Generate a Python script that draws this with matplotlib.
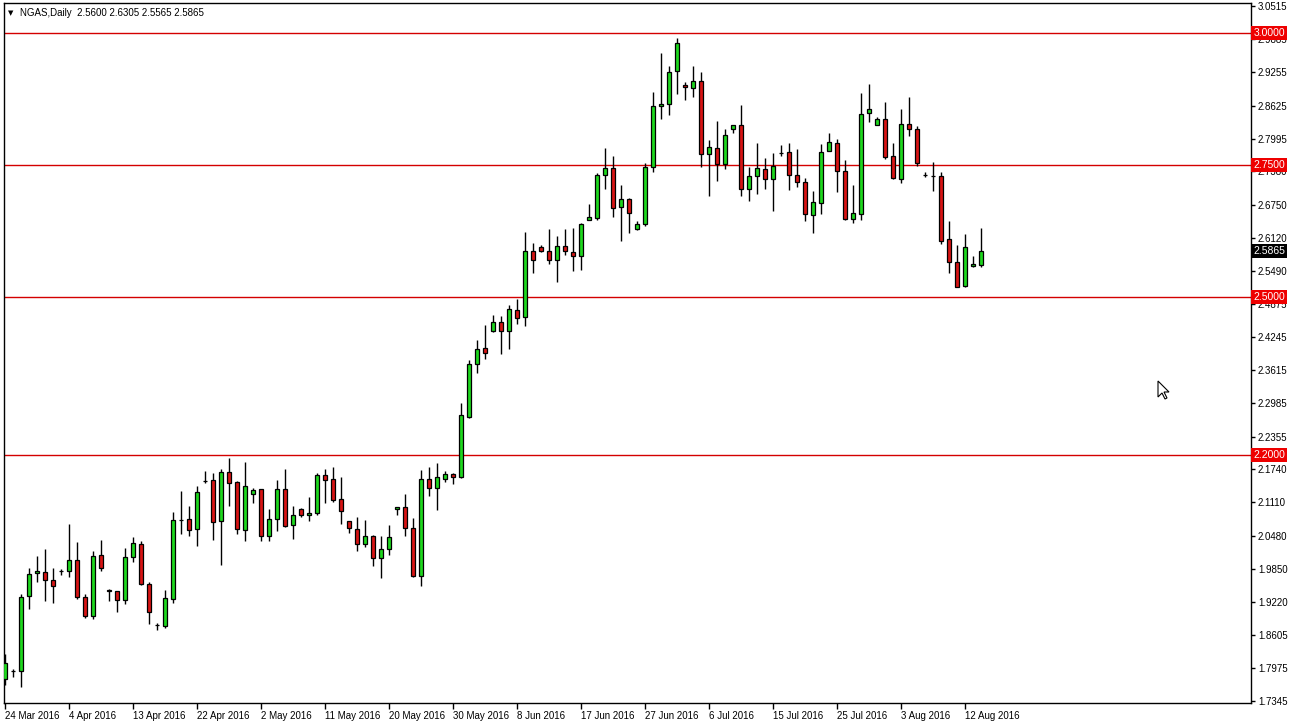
import matplotlib
matplotlib.use("Agg")
import matplotlib.pyplot as plt
import numpy as np

# NGAS daily candles, 24 Mar 2016 .. 15 Aug 2016 (incl. short Sunday bars)
opens = [1.777, 1.791, 1.791, 1.933, 1.977, 1.980, 1.964, 1.982, 1.982, 2.001,
         1.931, 1.895, 2.011, 1.946, 1.943, 1.926, 2.007, 2.032, 1.956, 1.878,
         1.876, 1.928, 2.078, 2.079, 2.060, 2.152, 2.153, 2.075, 2.168, 2.149,
         2.058, 2.126, 2.136, 2.047, 2.079, 2.136, 2.068, 2.098, 2.087, 2.090,
         2.162, 2.155, 2.117, 2.075, 2.060, 2.032, 2.047, 2.005, 2.022, 2.098,
         2.102, 2.062, 1.971, 2.155, 2.138, 2.155, 2.164, 2.160, 2.273, 2.373,
         2.403, 2.435, 2.453, 2.435, 2.475, 2.462, 2.587, 2.594, 2.587, 2.571,
         2.596, 2.585, 2.577, 2.645, 2.650, 2.732, 2.744, 2.670, 2.685, 2.628,
         2.638, 2.746, 2.861, 2.865, 2.928, 2.901, 2.895, 2.909, 2.770, 2.782,
         2.751, 2.818, 2.825, 2.704, 2.729, 2.742, 2.723, 2.772, 2.774, 2.731,
         2.717, 2.655, 2.678, 2.776, 2.791, 2.738, 2.647, 2.657, 2.848, 2.825,
         2.837, 2.767, 2.723, 2.827, 2.818, 2.732, 2.730, 2.729, 2.609, 2.566,
         2.520, 2.558, 2.560]
highs = [1.824, 1.795, 1.937, 1.987, 2.010, 2.023, 1.987, 1.985, 2.071, 2.036,
         1.937, 2.018, 2.040, 1.947, 1.944, 2.024, 2.045, 2.037, 1.960, 1.882,
         1.945, 2.093, 2.133, 2.104, 2.142, 2.171, 2.167, 2.174, 2.195, 2.152,
         2.187, 2.138, 2.137, 2.099, 2.153, 2.174, 2.104, 2.100, 2.121, 2.166,
         2.174, 2.178, 2.159, 2.076, 2.083, 2.077, 2.049, 2.047, 2.068, 2.102,
         2.126, 2.081, 2.172, 2.178, 2.185, 2.170, 2.166, 2.299, 2.381, 2.419,
         2.447, 2.466, 2.464, 2.485, 2.496, 2.623, 2.602, 2.599, 2.629, 2.616,
         2.629, 2.631, 2.640, 2.676, 2.734, 2.782, 2.767, 2.713, 2.687, 2.643,
         2.753, 2.888, 2.963, 2.937, 2.990, 2.907, 2.937, 2.926, 2.797, 2.833,
         2.818, 2.826, 2.863, 2.746, 2.791, 2.763, 2.772, 2.787, 2.791, 2.780,
         2.725, 2.700, 2.789, 2.810, 2.799, 2.759, 2.713, 2.886, 2.903, 2.840,
         2.869, 2.791, 2.857, 2.878, 2.823, 2.736, 2.755, 2.736, 2.643, 2.598,
         2.619, 2.577, 2.6305]
lows = [1.765, 1.780, 1.762, 1.910, 1.960, 1.925, 1.921, 1.974, 1.970, 1.928,
        1.892, 1.890, 1.981, 1.925, 1.903, 1.918, 1.998, 1.954, 1.880, 1.869,
        1.874, 1.921, 2.051, 2.048, 2.029, 2.148, 2.039, 1.993, 2.105, 2.051,
        2.037, 2.109, 2.037, 2.037, 2.056, 2.064, 2.042, 2.083, 2.075, 2.087,
        2.109, 2.112, 2.071, 2.053, 2.018, 2.026, 1.990, 1.967, 2.011, 2.088,
        2.047, 1.970, 1.952, 2.123, 2.096, 2.149, 2.145, 2.158, 2.271, 2.356,
        2.382, 2.434, 2.392, 2.402, 2.449, 2.445, 2.545, 2.585, 2.562, 2.528,
        2.579, 2.549, 2.551, 2.645, 2.646, 2.704, 2.651, 2.607, 2.621, 2.627,
        2.634, 2.736, 2.838, 2.844, 2.884, 2.874, 2.878, 2.746, 2.691, 2.719,
        2.742, 2.810, 2.691, 2.681, 2.696, 2.704, 2.662, 2.767, 2.702, 2.708,
        2.643, 2.621, 2.657, 2.776, 2.698, 2.645, 2.640, 2.645, 2.831, 2.825,
        2.761, 2.723, 2.715, 2.804, 2.748, 2.727, 2.700, 2.600, 2.545, 2.518,
        2.519, 2.556, 2.5565]
closes = [1.807, 1.791, 1.931, 1.975, 1.982, 1.964, 1.952, 1.982, 2.001, 1.931,
          1.895, 2.009, 1.986, 1.943, 1.926, 2.007, 2.034, 1.956, 1.903, 1.878,
          1.929, 2.078, 2.078, 2.058, 2.130, 2.152, 2.073, 2.168, 2.148, 2.060,
          2.142, 2.135, 2.047, 2.079, 2.136, 2.066, 2.088, 2.087, 2.090, 2.162,
          2.153, 2.115, 2.094, 2.062, 2.032, 2.047, 2.005, 2.022, 2.045, 2.102,
          2.062, 1.971, 2.155, 2.138, 2.160, 2.164, 2.160, 2.276, 2.373, 2.402,
          2.393, 2.453, 2.435, 2.477, 2.460, 2.587, 2.570, 2.587, 2.571, 2.596,
          2.587, 2.577, 2.638, 2.651, 2.731, 2.744, 2.668, 2.685, 2.659, 2.638,
          2.746, 2.861, 2.865, 2.926, 2.981, 2.897, 2.909, 2.770, 2.784, 2.751,
          2.806, 2.825, 2.704, 2.729, 2.744, 2.723, 2.748, 2.772, 2.731, 2.717,
          2.657, 2.679, 2.774, 2.793, 2.738, 2.647, 2.659, 2.846, 2.856, 2.837,
          2.765, 2.725, 2.827, 2.818, 2.753, 2.732, 2.730, 2.607, 2.566, 2.518,
          2.594, 2.562, 2.5865]

date_labels = ["24 Mar 2016", "4 Apr 2016", "13 Apr 2016", "22 Apr 2016",
               "2 May 2016", "11 May 2016", "20 May 2016", "30 May 2016",
               "8 Jun 2016", "17 Jun 2016", "27 Jun 2016", "6 Jul 2016",
               "15 Jul 2016", "25 Jul 2016", "3 Aug 2016", "12 Aug 2016"]
price_ticks = [3.0515, 2.9885, 2.9255, 2.8625, 2.7995, 2.7380, 2.6750, 2.6120,
               2.5490, 2.4875, 2.4245, 2.3615, 2.2985, 2.2355, 2.1740, 2.1110,
               2.0480, 1.9850, 1.9220, 1.8605, 1.7975, 1.7345]
levels = [3.0, 2.75, 2.5, 2.2]
last_price = 2.5865
title = "NGAS,Daily  2.5600 2.6305 2.5565 2.5865"

W, H = 1293, 726
fig = plt.figure(figsize=(W / 100, H / 100), dpi=100)
fig.patch.set_facecolor("white")
# plot area in pixels: x 4..1251, y 3..703
ax = fig.add_axes([4 / W, (H - 703) / H, 1247 / W, 700 / H])
ax.set_facecolor("white")

FONT = "Liberation Sans"
FS = 7

o = np.array(opens)
h = np.array(highs)
l = np.array(lows)
c = np.array(closes)
x = np.arange(len(o))
up = c >= o
colors = np.where(up, "#1ed81e", "#d81414")

ax.vlines(x, l, h, color="black", lw=1, zorder=2)
ax.bar(x, np.abs(c - o), bottom=np.minimum(o, c), width=0.58,
       color=colors, edgecolor="black", linewidth=0.9, zorder=3)

for lv in levels:
    ax.axhline(lv, color="#d40000", lw=1, zorder=1)

# 8 px per bar, first bar 1 px inside the left edge
ax.set_xlim(-0.125, len(o) - 1 + 270 / 8)
ax.set_ylim(2.5 - 406 / 528, 2.5 + 294 / 528)

for s in ax.spines.values():
    s.set_color("black")
    s.set_linewidth(1)

ax.yaxis.tick_right()
ax.set_yticks(price_ticks)
ax.set_yticklabels([f"{v:.4f}" for v in price_ticks], fontsize=FS, family=FONT)
ax.tick_params(axis="y", length=3, width=1, pad=2, colors="black")

ax.set_xticks(np.arange(0, len(o), 8))
ax.set_xticklabels(date_labels, fontsize=FS, family=FONT, ha="left")
ax.tick_params(axis="x", length=4, width=1, pad=2, colors="black")

# price tags on the right scale (they cover the tick labels below, as in MT4)
ytr = ax.get_yaxis_transform()
for lv in levels:
    ax.text(1.0018, lv, f"{lv:.4f}", transform=ytr, fontsize=FS + 0.5,
            family=FONT, color="white", va="center", ha="left", zorder=10,
            clip_on=False,
            bbox=dict(boxstyle="square,pad=0.2", fc="#ee0000", ec="none"))
ax.text(1.0018, last_price, f"{last_price:.4f}", transform=ytr,
        fontsize=FS + 0.5, family=FONT, color="white", va="center", ha="left",
        zorder=10, clip_on=False,
        bbox=dict(boxstyle="square,pad=0.2", fc="black", ec="none"))

# header
fig.text(8 / W, 1 - 13 / H, "\u25bc", fontsize=5, family="DejaVu Sans",
         va="center", ha="left")
fig.text(20 / W, 1 - 13 / H, title, fontsize=FS, family=FONT,
         va="center", ha="left")

# mouse pointer left in the screenshot
tip = np.array([1158, 381])
shape = np.array([[0, 0], [0, 16], [4, 12], [7, 18], [9, 17], [6, 11], [11, 11], [0, 0]])
pts = tip + shape
fig.add_artist(plt.Polygon(np.c_[pts[:, 0] / W, 1 - pts[:, 1] / H], closed=True,
                           fc="white", ec="black", lw=0.8,
                           transform=fig.transFigure))

fig.savefig("out.png", dpi=100, facecolor="white")
